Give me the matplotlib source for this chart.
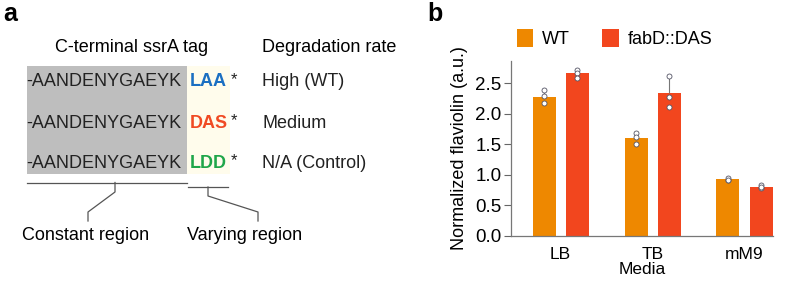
import matplotlib.pyplot as plt
import numpy as np

plt.rcParams['font.family'] = ['Liberation Sans', 'DejaVu Sans']

# panel a content
sequence = '-AANDENYGAEYK'
tags = ['LAA', 'DAS', 'LDD']
tag_colors = ['#1b6fc2', '#f04a23', '#1fa64a']
rates = ['High (WT)', 'Medium', 'N/A (Control)']

# panel b data
media = ['LB', 'TB', 'mM9']
strains = ['WT', 'fabD::DAS']
strain_colors = ['#ee8800', '#f2461e']
wt_points = [[2.38, 2.28, 2.17], [1.68, 1.62, 1.51], [0.92, 0.95, 0.92]]
das_points = [[2.72, 2.66, 2.59], [2.62, 2.27, 2.11], [0.78, 0.83, 0.80]]

W, H = 790, 283
fig = plt.figure(figsize=(W / 100, H / 100), dpi=100)

# ---- panel a: drawn in pixel coordinates ----
axa = fig.add_axes([0, 0, 1, 1])
axa.set_xlim(0, W)
axa.set_ylim(H, 0)
axa.axis('off')

axa.text(3, 14, 'a', fontsize=18, fontweight='bold', va='center', ha='left')
axa.text(132, 47, 'C-terminal ssrA tag', fontsize=13, ha='center', va='center')
axa.text(262, 47, 'Degradation rate', fontsize=13, ha='left', va='center')

axa.add_patch(plt.Rectangle((27, 66), 160, 108, color='#bebebe', lw=0))
axa.add_patch(plt.Rectangle((187, 66), 43, 108, color='#fffcec', lw=0))

row_y = [82, 123, 163]
for y, tag, c, rate in zip(row_y, tags, tag_colors, rates):
    axa.text(26, y, sequence, fontsize=13, ha='left', va='center', color='#222222')
    axa.text(190, y, tag, fontsize=13, fontweight='bold', ha='left', va='center', color=c)
    axa.text(231, y - 2, '*', fontsize=12, ha='left', va='center', color='#222222')
    axa.text(262, y, rate, fontsize=13, ha='left', va='center', color='#222222')

lc = '#555555'
axa.plot([27, 187], [182.5, 182.5], color=lc, lw=0.9)
axa.plot([115, 115, 88, 88], [182.5, 192, 212, 221], color=lc, lw=0.9)
axa.plot([188, 228], [187, 187], color=lc, lw=0.9)
axa.plot([208, 208, 258, 258], [187, 196, 212, 221], color=lc, lw=0.9)
axa.text(86, 235, 'Constant region', fontsize=13, ha='center', va='center')
axa.text(245, 235, 'Varying region', fontsize=13, ha='center', va='center')

# ---- panel b: bar chart ----
axb = fig.add_axes([511 / W, (H - 236) / H, (773 - 511) / W, (236 - 61) / H])
x = np.arange(len(media))
width = 0.25
offsets = [-0.18, 0.18]
for pts, off, c, name in zip([wt_points, das_points], offsets, strain_colors, strains):
    pts = np.array(pts)
    means = pts.mean(axis=1)
    sds = pts.std(axis=1, ddof=1)
    axb.bar(x + off, means, width, color=c, label=name, zorder=2)
    axb.errorbar(x + off, means, yerr=[np.zeros_like(sds), sds], fmt='none',
                 ecolor='#777777', elinewidth=0.8, capsize=0, zorder=3)
    for xi, row in zip(x + off, pts):
        axb.plot([xi] * len(row), row, 'o', ms=3.6, mfc='white', mec='#555566',
                 mew=0.6, zorder=4)

axb.set_xlim(-0.54, 2.31)
axb.set_ylim(0, 2.86)
axb.set_yticks(np.arange(0, 2.51, 0.5))
axb.set_yticklabels(['%.1f' % v for v in np.arange(0, 2.51, 0.5)])
axb.set_xticks(x)
axb.set_xticklabels(media)
axb.tick_params(axis='x', length=0, pad=8, labelsize=12.5)
axb.tick_params(axis='y', length=5, width=0.8, color='#666666', pad=2, labelsize=13.5)
for s in ['top', 'right']:
    axb.spines[s].set_visible(False)
for s in ['left', 'bottom']:
    axb.spines[s].set_color('#777777')
    axb.spines[s].set_linewidth(0.9)
axb.set_xlabel('Media', fontsize=12.5, labelpad=0)
axb.set_ylabel('Normalized flaviolin (a.u.)', fontsize=13, labelpad=5)
axb.legend(loc='center left', bbox_to_anchor=(0.015, 1.13), ncol=2, frameon=False,
           fontsize=13, handlelength=0.9, handleheight=1.2, handletextpad=0.5,
           columnspacing=1.8, borderaxespad=0, borderpad=0.1)

fig.text(427 / W, 1 - 14 / H, 'b', fontsize=18, fontweight='bold', va='center', ha='left')

fig.savefig('out.png', dpi=100)
